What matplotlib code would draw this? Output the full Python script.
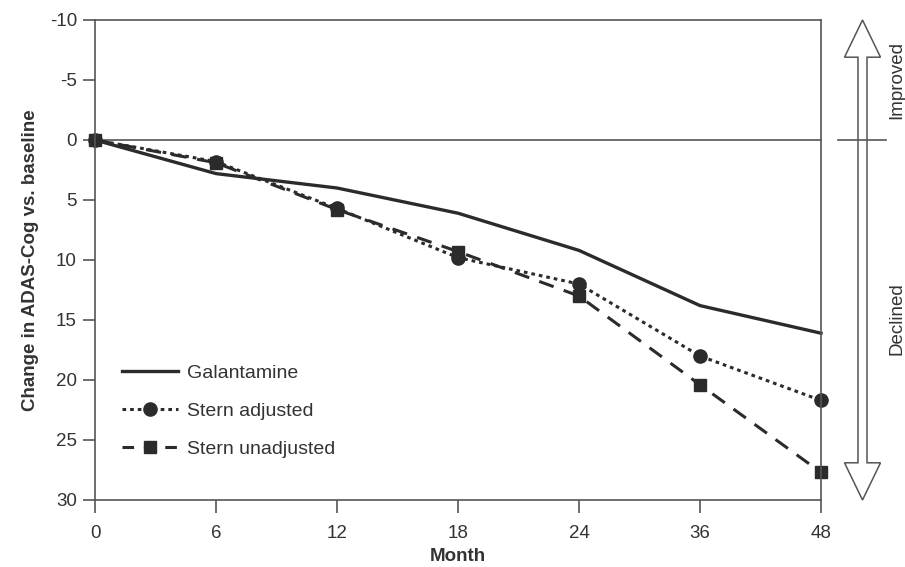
import matplotlib.pyplot as plt
from matplotlib.patches import Polygon

plt.rcParams['font.family'] = ['Liberation Sans', 'DejaVu Sans']

months = ['0', '6', '12', '18', '24', '36', '48']
galantamine = [0, 2.8, 4.0, 6.1, 9.2, 13.8, 16.1]
stern_adjusted = [0, 1.8, 5.7, 9.8, 12.0, 18.0, 21.7]
stern_unadjusted = [0, 1.9, 5.8, 9.3, 13.0, 20.4, 27.7]
yticks = [-10, -5, 0, 5, 10, 15, 20, 25, 30]

ink = '#2b2b2b'
grey = '#555555'
txt = '#333333'

fig = plt.figure(figsize=(9.05, 5.67), dpi=100)
ax = fig.add_axes([95/905, 67/567, 726/905, 480/567])
x = range(len(months))

ax.axhline(0, color=grey, lw=1.2, zorder=1)
ax.plot(x, galantamine, color=ink, lw=2.4, label='Galantamine')
ax.plot(x, stern_adjusted, color=ink, lw=2.2, ls=(0, (1.2, 1.3)),
        marker='o', ms=9.5, label='Stern adjusted')
ax.plot(x, stern_unadjusted, color=ink, lw=2.2, ls=(0, (5, 3.5)),
        marker='s', ms=8, label='Stern unadjusted')

ax.set_xlim(0, len(months) - 1)
ax.set_ylim(30, -10)
ax.set_xticks(list(x))
ax.set_xticklabels(months)
ax.set_yticks(yticks)
ax.set_yticklabels([str(t) for t in yticks])
ax.tick_params(length=9, width=1.2, color=grey, labelcolor=txt, labelsize=13.5)
ax.tick_params(axis='x', pad=9)
ax.tick_params(axis='y', pad=4)
for s in ax.spines.values():
    s.set_color(grey)
    s.set_linewidth(1.2)
for ln in ax.lines:
    ln.set_clip_on(False)

ax.set_xlabel('Month', fontsize=13.5, fontweight='bold', color=txt, labelpad=4)
ax.set_ylabel('Change in ADAS-Cog vs. baseline', fontsize=13.5,
              fontweight='bold', color=txt, labelpad=8)

leg = ax.legend(loc='upper left', bbox_to_anchor=(0.013, 0.32), frameon=False,
                fontsize=14, handlelength=2.9, labelspacing=1.05,
                handletextpad=0.45, labelcolor=txt)
leg.get_lines()[2].set_linestyle((0, (3.8, 3.2)))

# side arrow: improved / declined
ax2 = fig.add_axes([835/905, 67/567, 55/905, 480/567])
ax2.set_xlim(-27.5, 27.5)
ax2.set_ylim(30, -10)
ax2.axis('off')
sw, hw, hl = 4.5, 18, 3.1
pts = [(0, -10), (hw, -10 + hl), (sw, -10 + hl), (sw, 30 - hl), (hw, 30 - hl),
       (0, 30), (-hw, 30 - hl), (-sw, 30 - hl), (-sw, -10 + hl), (-hw, -10 + hl)]
ax2.add_patch(Polygon(pts, closed=True, fc='white', ec=grey, lw=1.1, clip_on=False))
ax2.plot([-25, 23], [0, 0], color=grey, lw=1.2, clip_on=False)
fig.text(897/905, 1 - 80/567, 'Improved', rotation=90, ha='center', va='center',
         fontsize=13.5, color=txt)
fig.text(897/905, 1 - 319/567, 'Declined', rotation=90, ha='center', va='center',
         fontsize=13.5, color=txt)

fig.savefig('out.png', dpi=100)
